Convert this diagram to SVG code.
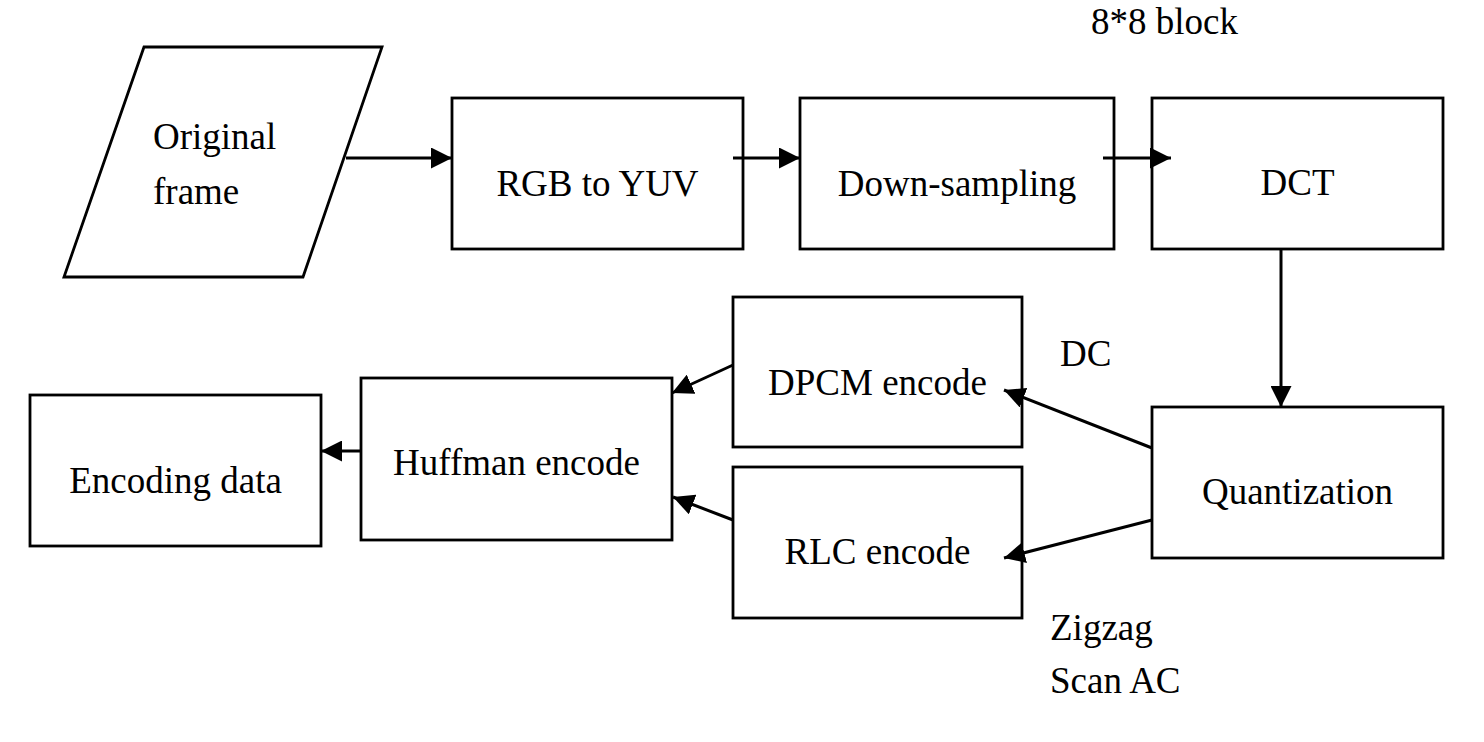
<svg xmlns="http://www.w3.org/2000/svg" width="1484" height="742" viewBox="0 0 1484 742">
<style>
.box{fill:#fff;stroke:#000;stroke-width:2.8}
.t{font-family:"Liberation Serif","Times New Roman",serif;font-size:37px;fill:#000}
.c{text-anchor:middle}
.conn{stroke:#000;stroke-width:3;fill:none}
</style>
<defs>
<marker id="ah" viewBox="0 0 21 21" refX="21" refY="10.5" markerWidth="21" markerHeight="21" markerUnits="userSpaceOnUse" orient="auto">
<path d="M0,0 L21,10.5 L0,21 Z" fill="#000"/>
</marker>
</defs>
<rect width="1484" height="742" fill="#fff"/>
<g id="original">
<polygon class="box" points="144,47 382,47 303,277 64,277"/>
<text class="t" x="153" y="149">Original</text>
<text class="t" x="153" y="204">frame</text>
</g>
<g id="rgb">
<rect class="box" x="452" y="98" width="291" height="151"/>
<text class="t c" x="597.5" y="196">RGB to YUV</text>
</g>
<g id="down">
<rect class="box" x="800" y="98" width="314" height="151"/>
<text class="t c" x="957" y="196">Down-sampling</text>
</g>
<g id="dct">
<rect class="box" x="1152" y="98" width="291" height="151"/>
<text class="t c" x="1297.5" y="195">DCT</text>
</g>
<g id="quant">
<rect class="box" x="1152" y="407" width="291" height="151"/>
<text class="t c" x="1297.5" y="504">Quantization</text>
</g>
<g id="dpcm">
<rect class="box" x="733" y="297" width="289" height="150"/>
<text class="t c" x="877.5" y="395">DPCM encode</text>
</g>
<g id="rlc">
<rect class="box" x="733" y="467" width="289" height="151"/>
<text class="t c" x="877.5" y="564">RLC encode</text>
</g>
<g id="huffman">
<rect class="box" x="361" y="378" width="311" height="162"/>
<text class="t c" x="516.5" y="475">Huffman encode</text>
</g>
<g id="encoding">
<rect class="box" x="30" y="395" width="291" height="151"/>
<text class="t c" x="175.5" y="493">Encoding data</text>
</g>
<g id="labels">
<text class="t" x="1091" y="34">8*8 block</text>
<text class="t" x="1060" y="366">DC</text>
<text class="t" x="1050" y="640">Zigzag</text>
<text class="t" x="1050" y="693">Scan AC</text>
</g>
<g id="connectors">
<line class="conn" x1="346" y1="158" x2="452" y2="158" marker-end="url(#ah)"/>
<line class="conn" x1="733" y1="158" x2="800" y2="158" marker-end="url(#ah)"/>
<line class="conn" x1="1103" y1="158" x2="1171" y2="158" marker-end="url(#ah)"/>
<line class="conn" x1="1281" y1="249" x2="1281" y2="407" marker-end="url(#ah)"/>
<line class="conn" x1="1152" y1="448" x2="1004" y2="390" marker-end="url(#ah)"/>
<line class="conn" x1="1152" y1="520" x2="1004" y2="558" marker-end="url(#ah)"/>
<line class="conn" x1="733" y1="365" x2="672" y2="393" marker-end="url(#ah)"/>
<line class="conn" x1="733" y1="520" x2="673" y2="497" marker-end="url(#ah)"/>
<line class="conn" x1="361" y1="451" x2="321" y2="451" marker-end="url(#ah)"/>
</g>
</svg>
